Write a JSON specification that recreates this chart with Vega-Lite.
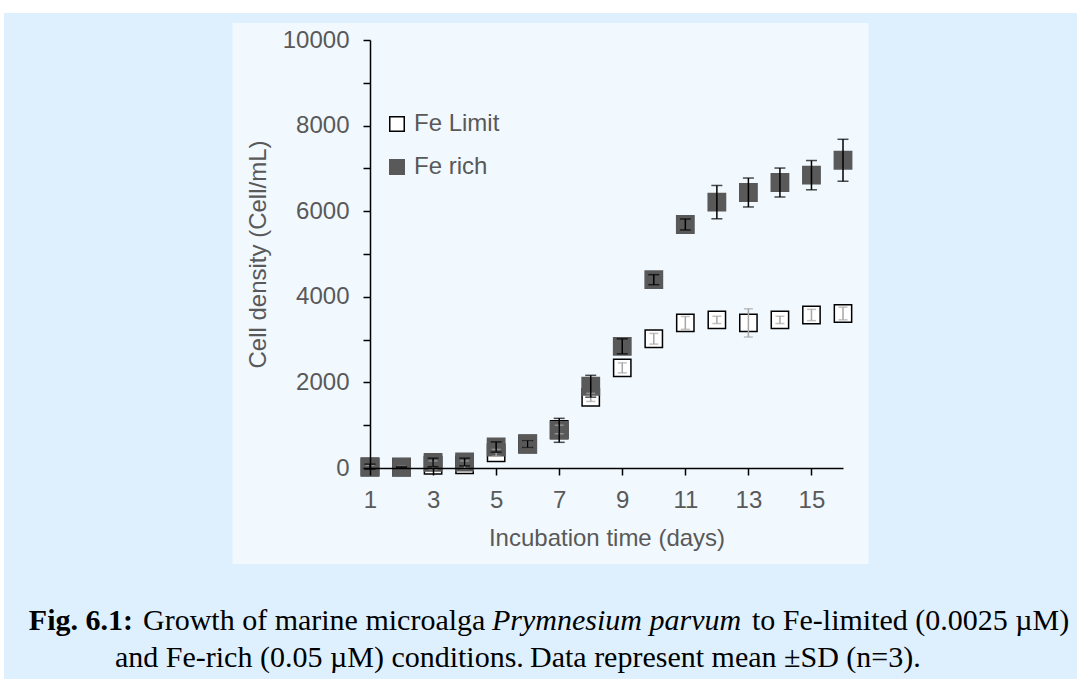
{
  "$schema": "https://vega.github.io/schema/vega-lite/v6.json",
  "width": 473,
  "height": 428,
  "autosize": {"type": "none"},
  "padding": {"left": 370, "top": 40, "right": 234, "bottom": 211},
  "background": "white",
  "config": {
    "view": {"stroke": null},
    "axis": {"grid": false}
  },
  "datasets": {
    "growth": [
      {"day": 1, "series": "Fe Limit", "mean": 20, "sd": 40},
      {"day": 2, "series": "Fe Limit", "mean": 20, "sd": 20},
      {"day": 3, "series": "Fe Limit", "mean": 65, "sd": 100},
      {"day": 4, "series": "Fe Limit", "mean": 75, "sd": 90},
      {"day": 5, "series": "Fe Limit", "mean": 355, "sd": 80},
      {"day": 6, "series": "Fe Limit", "mean": 560, "sd": 80},
      {"day": 7, "series": "Fe Limit", "mean": 900, "sd": 100},
      {"day": 8, "series": "Fe Limit", "mean": 1650, "sd": 95},
      {"day": 9, "series": "Fe Limit", "mean": 2340, "sd": 117},
      {"day": 10, "series": "Fe Limit", "mean": 3020, "sd": 125},
      {"day": 11, "series": "Fe Limit", "mean": 3390, "sd": 150},
      {"day": 12, "series": "Fe Limit", "mean": 3460, "sd": 85},
      {"day": 13, "series": "Fe Limit", "mean": 3390, "sd": 330},
      {"day": 14, "series": "Fe Limit", "mean": 3460, "sd": 85},
      {"day": 15, "series": "Fe Limit", "mean": 3575, "sd": 132},
      {"day": 16, "series": "Fe Limit", "mean": 3610, "sd": 148},
      {"day": 1, "series": "Fe rich", "mean": 30, "sd": 60},
      {"day": 2, "series": "Fe rich", "mean": 20, "sd": 10},
      {"day": 3, "series": "Fe rich", "mean": 130, "sd": 100},
      {"day": 4, "series": "Fe rich", "mean": 140, "sd": 90},
      {"day": 5, "series": "Fe rich", "mean": 490, "sd": 120},
      {"day": 6, "series": "Fe rich", "mean": 560, "sd": 80},
      {"day": 7, "series": "Fe rich", "mean": 880, "sd": 280},
      {"day": 8, "series": "Fe rich", "mean": 1910, "sd": 255},
      {"day": 9, "series": "Fe rich", "mean": 2843, "sd": 175},
      {"day": 10, "series": "Fe rich", "mean": 4400, "sd": 117},
      {"day": 11, "series": "Fe rich", "mean": 5690, "sd": 128},
      {"day": 12, "series": "Fe rich", "mean": 6212, "sd": 389},
      {"day": 13, "series": "Fe rich", "mean": 6437, "sd": 338},
      {"day": 14, "series": "Fe rich", "mean": 6670, "sd": 338},
      {"day": 15, "series": "Fe rich", "mean": 6842, "sd": 342},
      {"day": 16, "series": "Fe rich", "mean": 7190, "sd": 490}
    ]
  },
  "layer": [
    {
      "data": {"values": [{}]},
      "mark": {"type": "rect", "color": "#def0fd"},
      "encoding": {
        "x": {
          "datum": -10.607, "type": "quantitative",
          "title": "Incubation time (days)",
          "scale": {"domain": [1, 16], "nice": false, "zero": false},
          "axis": {
            "zindex": 2,
            "values": [1, 3, 5, 7, 9, 11, 13, 15], "format": "d",
            "title": "Incubation time (days)",
            "tickSize": 7, "tickWidth": 1.5, "tickColor": "black",
            "domainColor": "black", "domainWidth": 1.5,
            "labelFont": "Liberation Sans", "labelFontSize": 24, "labelColor": "#595959",
            "labelPadding": 13, "labelFlush": false,
            "titleFont": "Liberation Sans", "titleFontSize": 24, "titleFontWeight": "normal",
            "titleColor": "#595959", "titlePadding": 14
          }
        },
        "x2": {"datum": 25},
        "y": {
          "datum": 10631, "type": "quantitative",
          "title": "Cell density (Cell/mL)",
          "scale": {"domain": [0, 10000], "nice": false, "zero": false},
          "axis": {
            "zindex": 2,
            "values": [0, 500, 1000, 1500, 2000, 2500, 3000, 3500, 4000, 4500, 5000, 5500, 6000, 6500, 7000, 7500, 8000, 8500, 9000, 9500, 10000],
            "format": "d",
            "labelExpr": "datum.value % 2000 === 0 ? datum.label : ''",
            "title": "Cell density (Cell/mL)",
            "tickSize": 7, "tickWidth": 1.5, "tickColor": "black",
            "domainColor": "black", "domainWidth": 1.5,
            "labelFont": "Liberation Sans", "labelFontSize": 24, "labelColor": "#595959",
            "labelPadding": 14, "labelFlush": false, "labelOverlap": false,
            "titleFont": "Liberation Sans", "titleFontSize": 24, "titleFontWeight": "normal",
            "titleColor": "#595959", "titlePadding": 12
          }
        },
        "y2": {"datum": -5500}
      }
    },
    {
      "data": {"values": [{}]},
      "mark": {"type": "rect", "color": "#f1f8fe"},
      "encoding": {
        "x": {"datum": -3.36, "type": "quantitative", "title": "Incubation time (days)"},
        "x2": {"datum": 16.809},
        "y": {"datum": 10397, "type": "quantitative", "title": "Cell density (Cell/mL)"},
        "y2": {"datum": -2243}
      }
    },
    {
      "data": {"name": "growth"},
      "mark": {"type": "point", "shape": "square", "filled": true, "size": 300, "strokeWidth": 1.5, "opacity": 1},
      "encoding": {
        "x": {"field": "day", "type": "quantitative", "title": "Incubation time (days)"},
        "y": {"field": "mean", "type": "quantitative", "title": "Cell density (Cell/mL)"},
        "fill": {
          "field": "series", "type": "nominal",
          "scale": {"domain": ["Fe Limit", "Fe rich"], "range": ["white", "#595959"]},
          "legend": {
            "orient": "none", "legendX": 15, "legendY": 72, "title": null,
            "symbolType": "square", "symbolSize": 210, "symbolStrokeWidth": 1.5, "symbolOpacity": 1,
            "labelFont": "Liberation Sans", "labelFontSize": 24, "labelColor": "#595959",
            "labelOffset": 5, "rowPadding": 19, "padding": 0
          }
        },
        "stroke": {
          "field": "series", "type": "nominal",
          "scale": {"domain": ["Fe Limit", "Fe rich"], "range": ["black", "#595959"]},
          "legend": {
            "orient": "none", "legendX": 15, "legendY": 72, "title": null,
            "symbolType": "square", "symbolSize": 210, "symbolStrokeWidth": 1.5, "symbolOpacity": 1,
            "labelFont": "Liberation Sans", "labelFontSize": 24, "labelColor": "#595959",
            "labelOffset": 5, "rowPadding": 19, "padding": 0
          }
        }
      }
    },
    {
      "data": {"name": "growth"},
      "transform": [{"filter": "datum.series === 'Fe Limit'"}],
      "mark": {"type": "errorbar", "ticks": true, "size": 9, "thickness": 1.5, "color": "#a6a6a6"},
      "encoding": {
        "x": {"field": "day", "type": "quantitative", "title": "Incubation time (days)"},
        "y": {"field": "mean", "type": "quantitative", "title": "Cell density (Cell/mL)"},
        "yError": {"field": "sd"}
      }
    },
    {
      "data": {"name": "growth"},
      "transform": [{"filter": "datum.series === 'Fe rich'"}],
      "mark": {"type": "errorbar", "ticks": true, "size": 11, "thickness": 1.5, "color": "black"},
      "encoding": {
        "x": {"field": "day", "type": "quantitative", "title": "Incubation time (days)"},
        "y": {"field": "mean", "type": "quantitative", "title": "Cell density (Cell/mL)"},
        "yError": {"field": "sd"}
      }
    },
    {
      "data": {"values": [{}]},
      "mark": {"type": "text", "font": "Liberation Serif", "fontSize": 30, "fontWeight": "bold", "align": "right", "baseline": "alphabetic", "color": "black"},
      "encoding": {
        "x": {"datum": -6.516, "type": "quantitative", "title": "Incubation time (days)"},
        "y": {"datum": -3780, "type": "quantitative", "title": "Cell density (Cell/mL)"},
        "text": {"value": "Fig. 6.1:"}
      }
    },
    {
      "data": {"values": [{}]},
      "mark": {"type": "text", "font": "Liberation Serif", "fontSize": 30, "align": "left", "baseline": "alphabetic", "color": "black"},
      "encoding": {
        "x": {"datum": -6.199, "type": "quantitative", "title": "Incubation time (days)"},
        "y": {"datum": -3780, "type": "quantitative", "title": "Cell density (Cell/mL)"},
        "text": {"value": "Growth of marine microalga"}
      }
    },
    {
      "data": {"values": [{}]},
      "mark": {"type": "text", "font": "Liberation Serif", "fontSize": 30, "fontStyle": "italic", "align": "left", "baseline": "alphabetic", "color": "black"},
      "encoding": {
        "x": {"datum": 4.869, "type": "quantitative", "title": "Incubation time (days)"},
        "y": {"datum": -3780, "type": "quantitative", "title": "Cell density (Cell/mL)"},
        "text": {"value": "Prymnesium parvum"}
      }
    },
    {
      "data": {"values": [{}]},
      "mark": {"type": "text", "font": "Liberation Serif", "fontSize": 30, "align": "left", "baseline": "alphabetic", "color": "black"},
      "encoding": {
        "x": {"datum": 13.114, "type": "quantitative", "title": "Incubation time (days)"},
        "y": {"datum": -3780, "type": "quantitative", "title": "Cell density (Cell/mL)"},
        "text": {"value": "to Fe-limited (0.0025 µM)"}
      }
    },
    {
      "data": {"values": [{}]},
      "mark": {"type": "text", "font": "Liberation Serif", "fontSize": 30, "align": "left", "baseline": "alphabetic", "color": "black"},
      "encoding": {
        "x": {"datum": -7.087, "type": "quantitative", "title": "Incubation time (days)"},
        "y": {"datum": -4642, "type": "quantitative", "title": "Cell density (Cell/mL)"},
        "text": {"value": "and Fe-rich (0.05 µM) conditions."}
      }
    },
    {
      "data": {"values": [{}]},
      "mark": {"type": "text", "font": "Liberation Serif", "fontSize": 30, "align": "left", "baseline": "alphabetic", "color": "black"},
      "encoding": {
        "x": {"datum": 6.074, "type": "quantitative", "title": "Incubation time (days)"},
        "y": {"datum": -4642, "type": "quantitative", "title": "Cell density (Cell/mL)"},
        "text": {"value": "Data represent mean ±SD (n=3)."}
      }
    }
  ]
}
